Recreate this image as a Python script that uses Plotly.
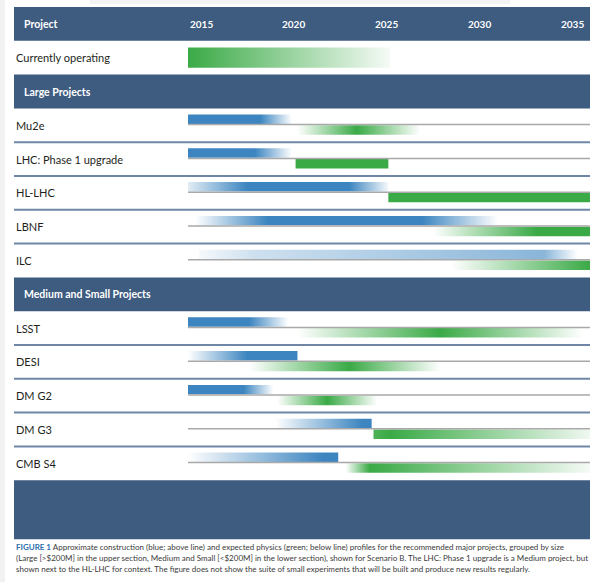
import plotly.graph_objects as go

# ---------------- data ----------------
tick_years = [2015, 2020, 2025, 2030, 2035]
CHART_END = 2036.67

current_years = [2015, 2025.9]
current_levels = [1, 0.05]

large_projects = ["Mu2e", "LHC: Phase 1 upgrade", "HL-LHC", "LBNF", "ILC"]
medium_projects = ["LSST", "DESI", "DM G2", "DM G3", "CMB S4"]

# construction profiles (blue): key years and relative intensity
construction_years = [
    [2015, 2018.9, 2020.6],
    [2015, 2018.6, 2020.6],
    [2015, 2018.2, 2023.7, 2025.8],
    [2015.4, 2019.3, 2027.6, 2031.7],
    [2015.6, 2018.5, 2034.2, 2036.0],
    [2015, 2018.3, 2020.4],
    [2015, 2018.2, 2020.9],
    [2015, 2018.0, 2019.6],
    [2019.7, 2024.4, 2024.9],
    [2015, 2022.3, 2023.1],
]
construction_levels = [
    [1, 1, 0],
    [1, 1, 0],
    [0.15, 1, 1, 0.05],
    [0, 1, 1, 0],
    [0.05, 0.25, 0.6, 0],
    [1, 1, 0],
    [0, 1, 1],
    [1, 1, 0],
    [0, 1, 1],
    [0, 1, 1],
]
# physics profiles (green)
physics_years = [
    [2020.9, 2024.1, 2027.5],
    [2020.8, 2025.8],
    [2025.8, CHART_END],
    [2028.2, 2033.8, CHART_END],
    [2029.2, CHART_END],
    [2020.9, 2028.6, 2036.3],
    [2018.3, 2023.7, 2028.6],
    [2019.8, 2022.5, 2025.2],
    [2025.0, 2025.9, CHART_END],
    [2023.5, 2024.8, CHART_END],
]
physics_levels = [
    [0, 1, 0],
    [1, 1],
    [1, 1],
    [0, 1, 1],
    [0, 1],
    [0, 1, 0],
    [0, 1, 0],
    [0, 1, 0],
    [0.9, 1, 0.08],
    [0, 1, 0.05],
]

caption_lines = [
    '<span style="color:#2f6fad"><b>FIGURE 1</b></span> Approximate construction (blue; above line) and expected physics (green; below line) profiles for the recommended major projects, grouped by size',
    "(Large [&gt;$200M] in the upper section, Medium and Small [&lt;$200M] in the lower section), shown for Scenario B. The LHC: Phase 1 upgrade is a Medium project, but",
    "shown next to the HL-LHC for context. The figure does not show the suite of small experiments that will be built and produce new results regularly.",
]

# ---------------- style / layout ----------------
W, H = 600, 582
PX0, PX_PER_YEAR = 188, 18.55
X_MIN = 2015 - PX0 / PX_PER_YEAR
X_MAX = 2015 + (W - PX0) / PX_PER_YEAR
TOP_PX, SLOT_PX = 7, 33.8
Y_TOP = -TOP_PX / SLOT_PX
Y_BOT = (H - TOP_PX) / SLOT_PX
BAND_X0, BAND_X1 = 14 / W, 590 / W

BAND = "#3e5b80"
BLUE = (60, 133, 192)
GREEN = (58, 170, 70)
SEP = "#7086a6"
GRAY = "#a9a9a9"
FONT = "Lato"
TXT = "#231f20"


def rgba(c, a):
    return f"rgba({c[0]},{c[1]},{c[2]},{a:.3f})"


def grad_bar(years, levels, y0, y1, color):
    x0, x1 = years[0], years[-1]
    span = x1 - x0
    cs = [[(yy - x0) / span, rgba(color, lv)] for yy, lv in zip(years, levels)]
    return go.Scatter(
        x=[x0, x1, x1, x0, x0], y=[y0, y0, y1, y1, y0],
        mode="lines", line=dict(width=0), fill="toself",
        fillgradient=dict(type="horizontal", colorscale=cs),
        hoverinfo="skip", showlegend=False,
    )


fig = go.Figure()
shapes = []
annotations = []


def label(text, slot, x_px, bold=False, color=TXT, size=11):
    annotations.append(dict(
        x=x_px / W, xref="paper", y=slot + 0.5, yref="y",
        text=f"<b>{text}</b>" if bold else text, showarrow=False,
        xanchor="left", yanchor="middle",
        font=dict(family=FONT, size=size, color=color)))


def band(slot, height=1.0):
    shapes.append(dict(type="rect", xref="paper", yref="y",
                       x0=BAND_X0, x1=BAND_X1, y0=slot, y1=slot + height,
                       fillcolor=BAND, line=dict(width=0), layer="below"))


# page decorations
shapes.append(dict(type="rect", xref="paper", yref="paper", x0=0, x1=5 / W,
                   y0=0, y1=1, fillcolor="#f2f2f2", line=dict(width=0), layer="below"))
shapes.append(dict(type="rect", xref="paper", yref="paper", x0=0.15, x1=0.85,
                   y0=1 - 4 / H, y1=1, fillcolor="#f3f3f3", line=dict(width=0), layer="below"))

# header
band(0)
label("Project", 0, 22, bold=True, color="white", size=10.5)
for ty in tick_years:
    annotations.append(dict(
        x=ty, xref="x", y=0.5, yref="y", text=f"<b>{ty}</b>", showarrow=False,
        xanchor="center", yanchor="middle", xshift=13,
        font=dict(family=FONT, size=10, color="white")))

# currently operating
label("Currently operating", 1, 14)
fig.add_trace(grad_bar(current_years, current_levels, 1.2, 1.8, GREEN))

# sections
slot = 2
sections = [("Large Projects", large_projects, 0), ("Medium and Small Projects", medium_projects, len(large_projects))]
for title, names, off in sections:
    band(slot)
    label(title, slot, 22, bold=True, color="white", size=10.5)
    slot += 1
    for j, name in enumerate(names):
        k = off + j
        label(name, slot, 14)
        mid = slot + 0.48
        shapes.append(dict(type="line", xref="x", yref="y", x0=2015, x1=CHART_END,
                           y0=mid, y1=mid, line=dict(color=GRAY, width=1.5)))
        fig.add_trace(grad_bar(construction_years[k], construction_levels[k], slot + 0.18, mid - 0.02, BLUE))
        fig.add_trace(grad_bar(physics_years[k], physics_levels[k], mid + 0.02, slot + 0.78, GREEN))
        if j < len(names) - 1:
            shapes.append(dict(type="line", xref="paper", yref="y", x0=BAND_X0, x1=BAND_X1,
                               y0=slot + 1, y1=slot + 1, line=dict(color=SEP, width=2)))
        slot += 1

# footer band
band(slot, 59 / SLOT_PX)

for i, (line, ypx) in enumerate(zip(caption_lines, [547, 558, 569])):
    annotations.append(dict(
        x=14 / W, xref="paper", y=1 - ypx / H, yref="paper", text=line, showarrow=False,
        xanchor="left", yanchor="middle",
        font=dict(family=FONT, size=8.0, color="#3a3a3a")))

fig.update_layout(
    width=W, height=H, autosize=False,
    margin=dict(l=0, r=0, t=0, b=0),
    paper_bgcolor="white", plot_bgcolor="white",
    xaxis=dict(range=[X_MIN, X_MAX], visible=False, fixedrange=True),
    yaxis=dict(range=[Y_BOT, Y_TOP], visible=False, fixedrange=True),
    shapes=shapes, annotations=annotations, showlegend=False,
)

fig.write_html("out.html")
